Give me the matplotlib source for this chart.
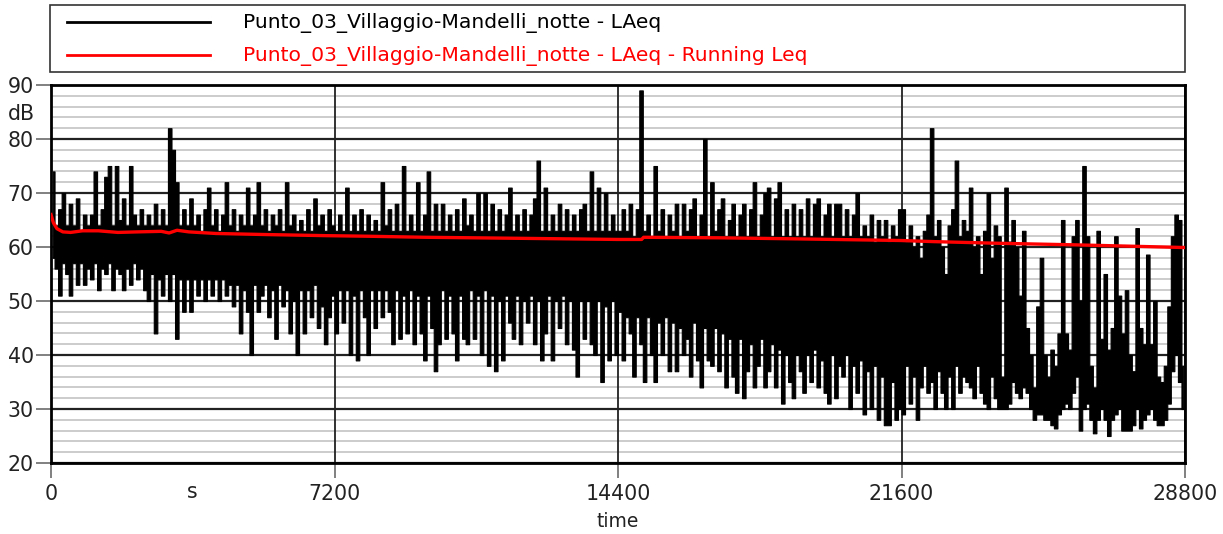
import numpy as np
import matplotlib

matplotlib.use("Agg")
import matplotlib.pyplot as plt
import matplotlib.transforms as mtransforms
from matplotlib.lines import Line2D
from matplotlib.patches import Rectangle

plt.rcParams["font.family"] = ["DejaVu Sans"]

SERIES_LABEL = "Punto_03_Villaggio-Mandelli_notte - LAeq"
RUNNING_LABEL = SERIES_LABEL + " - Running Leq"

# LAeq max / min inside each 90 s slot (dB)
BIN_S = 90
laeq_max_0_2h = [
    74, 64, 67, 70, 64, 68, 64, 69, 63, 66, 64, 66, 74, 64, 67, 73, 75, 64, 75, 65,
    69, 64, 75, 66, 64, 67, 64, 66, 64, 68, 64, 67, 64, 82, 78, 72, 64, 67, 64, 69,
    64, 66, 63, 67, 71, 64, 67, 63, 66, 72, 64, 67, 63, 66, 64, 71, 64, 66, 72, 64,
    67, 63, 66, 64, 67, 63, 72, 64, 66, 63, 65, 63, 67, 63, 69, 64, 66, 63, 67, 64,
]
laeq_min_0_2h = [
    58, 56, 51, 57, 55, 51, 57, 53, 57, 53, 56, 54, 57, 52, 56, 55, 57, 52, 56, 55,
    52, 56, 53, 57, 54, 56, 52, 50, 55, 44, 54, 51, 55, 50, 55, 43, 54, 48, 54, 48,
    54, 51, 54, 50, 54, 51, 54, 50, 54, 51, 53, 49, 53, 44, 52, 48, 40, 53, 48, 51,
    53, 47, 52, 43, 53, 49, 52, 44, 50, 40, 52, 44, 52, 47, 53, 45, 49, 42, 47, 51,
]
laeq_max_2_4h = [
    63, 66, 63, 71, 63, 66, 63, 67, 63, 66, 63, 65, 63, 72, 64, 67, 63, 68, 63, 75,
    63, 66, 63, 72, 63, 66, 74, 63, 68, 63, 68, 63, 66, 63, 67, 63, 69, 64, 66, 63,
    70, 63, 70, 63, 68, 63, 67, 63, 66, 71, 63, 66, 63, 67, 63, 66, 69, 76, 63, 71,
    63, 66, 63, 68, 63, 67, 63, 66, 63, 67, 68, 63, 74, 63, 71, 63, 70, 63, 66, 63,
]
laeq_min_2_4h = [
    44, 52, 46, 52, 40, 51, 39, 52, 47, 40, 52, 45, 52, 47, 52, 48, 42, 52, 43, 51,
    44, 52, 42, 51, 44, 39, 51, 45, 37, 42, 52, 43, 51, 44, 39, 51, 43, 42, 52, 43,
    51, 40, 52, 38, 51, 37, 50, 39, 51, 46, 43, 51, 42, 50, 46, 51, 42, 50, 39, 44,
    51, 39, 50, 45, 51, 42, 50, 41, 36, 50, 43, 50, 42, 40, 50, 35, 49, 39, 50, 40,
]
laeq_max_4_6h = [
    63, 67, 63, 68, 62, 67, 89, 63, 66, 62, 75, 63, 67, 62, 66, 63, 68, 62, 68, 63,
    67, 69, 62, 66, 80, 62, 72, 63, 67, 69, 62, 65, 68, 62, 66, 68, 62, 67, 72, 62,
    66, 70, 71, 62, 69, 72, 62, 67, 62, 68, 62, 67, 62, 69, 62, 68, 69, 62, 66, 68,
    62, 68, 68, 62, 67, 62, 66, 70, 62, 64, 62, 66, 61, 65, 62, 65, 61, 64, 62, 67,
]
laeq_min_4_6h = [
    48, 39, 47, 44, 36, 47, 42, 35, 47, 40, 35, 46, 40, 47, 37, 46, 37, 45, 40, 43,
    36, 46, 39, 34, 45, 39, 38, 45, 37, 44, 34, 43, 36, 33, 43, 32, 37, 42, 34, 38,
    43, 34, 37, 42, 34, 41, 31, 40, 35, 32, 40, 37, 33, 40, 35, 41, 34, 39, 33, 31,
    40, 32, 38, 36, 40, 30, 38, 33, 39, 29, 37, 30, 38, 28, 36, 27, 27, 35, 28, 30,
]
laeq_max_6_8h = [
    67, 61, 64, 60, 62, 58, 63, 66, 82, 62, 65, 60, 55, 64, 67, 76, 62, 65, 63, 71,
    60, 62, 55, 63, 70, 58, 64, 62, 36, 71, 61, 65, 60, 51, 63, 45, 40, 34, 49, 58,
    40, 36, 41, 38, 44, 65, 44, 41, 62, 65, 50, 75, 62, 38, 34, 63, 43, 55, 41, 45,
    62, 51, 44, 52, 40, 37, 63.5, 45, 42, 58.6, 42, 50, 36, 35, 38, 49, 62, 66, 65, 38,
]
laeq_min_6_8h = [
    29, 38, 31, 36, 28, 34, 38, 33, 35, 30, 37, 33, 30, 36, 30, 38, 33, 36, 35, 34,
    32, 38, 33, 31, 30, 36, 32, 30, 30, 30, 31, 35, 33, 32, 34, 33, 30, 28, 29, 29,
    28, 28, 27, 26.4, 29, 30, 31, 30, 33, 36, 26, 30, 31, 28, 25.5, 28, 30, 28, 25, 28,
    29, 30, 26, 26, 26, 27, 30, 26.4, 28, 29, 30, 28, 27, 27, 28, 31, 37, 40, 35, 30,
]

# Running Leq read at a few times (s, dB)
running_t = [0, 60, 150, 300, 500, 800, 1200, 1700, 2200, 2800, 3000, 3200, 3500,
             4200, 5500, 7000, 8000, 9500, 12000, 14400, 15000, 15050, 17000,
             19000, 21600, 22400, 24000, 26000, 28800]
running_leq = [66.0, 64.5, 63.4, 62.8, 62.7, 63.0, 63.0, 62.7, 62.8, 62.9, 62.6,
               63.1, 62.8, 62.5, 62.3, 62.1, 62.0, 61.8, 61.6, 61.4, 61.4, 61.8,
               61.7, 61.5, 61.2, 61.0, 60.7, 60.4, 59.9]

x_ticks = [0, 7200, 14400, 21600, 28800]
y_ticks = [20, 30, 40, 50, 60, 70, 80, 90]
y_minor = [v for v in range(22, 90, 2) if v % 10]

laeq_max = np.array(laeq_max_0_2h + laeq_max_2_4h + laeq_max_4_6h + laeq_max_6_8h, dtype=float)
laeq_min = np.array(laeq_min_0_2h + laeq_min_2_4h + laeq_min_4_6h + laeq_min_6_8h, dtype=float)
t_mid = (np.arange(len(laeq_max)) + 0.5) * BIN_S

W, H = 1223, 534
fig = plt.figure(figsize=(W / 100, H / 100), dpi=100)
ax = fig.add_axes([51 / W, 71 / H, 1134 / W, 378 / H])

# grid drawn by hand so the vertical lines stay on top of the light ones
for v in y_minor:
    ax.axhline(v, color="#c8c8c8", lw=1.3, zorder=0.5)
for v in y_ticks:
    ax.axhline(v, color="#222222", lw=1.6, zorder=0.8)
for v in x_ticks:
    ax.axvline(v, color="#222222", lw=1.3, zorder=0.9)

# dense trace: each 90 s slot spans its min..max
ax.fill_between(t_mid, laeq_min, laeq_max, step="mid", facecolor="black",
                edgecolor="black", lw=0.8, zorder=3)
ax.plot(running_t, running_leq, color="#ff0000", lw=2.4, zorder=4)

ax.set_xlim(0, 28800)
ax.set_ylim(20, 90)
ax.set_xticks(x_ticks)
ax.set_yticks(y_ticks)
for sp in ax.spines.values():
    sp.set_linewidth(2)
    sp.set_color("black")

ax.tick_params(which="major", length=11, width=1.4, color="#808080",
               labelsize=14.8, labelcolor="#222222")
ax.tick_params(axis="y", pad=1.5)
ax.tick_params(axis="x", pad=4)
ax.set_xlabel("time", fontsize=13.5, color="#222222", labelpad=6)

# unit labels
ax.text(-16 / 1134, 84.7, "dB", transform=mtransforms.blended_transform_factory(ax.transAxes, ax.transData),
        ha="right", va="center", fontsize=14.8, color="#222222")
ax.text(3600, -29 / 378, "s", transform=mtransforms.blended_transform_factory(ax.transData, ax.transAxes),
        ha="center", va="center", fontsize=14.8, color="#222222")

# legend box drawn above the plot
fig.add_artist(Rectangle((50 / W, 1 - 72 / H), 1135 / W, 67 / H, transform=fig.transFigure,
                         fill=False, edgecolor="#333333", lw=1.2))
for y_px, label, col in [(22, SERIES_LABEL, "black"), (55, RUNNING_LABEL, "#ff0000")]:
    fig.add_artist(Line2D([67 / W, 210 / W], [1 - y_px / H] * 2, transform=fig.transFigure,
                          color=col, lw=2.0))
    fig.text(243 / W, 1 - (y_px + 6) / H, label, ha="left", va="baseline", fontsize=14.6, color=col)

fig.savefig("out.png", dpi=100)
